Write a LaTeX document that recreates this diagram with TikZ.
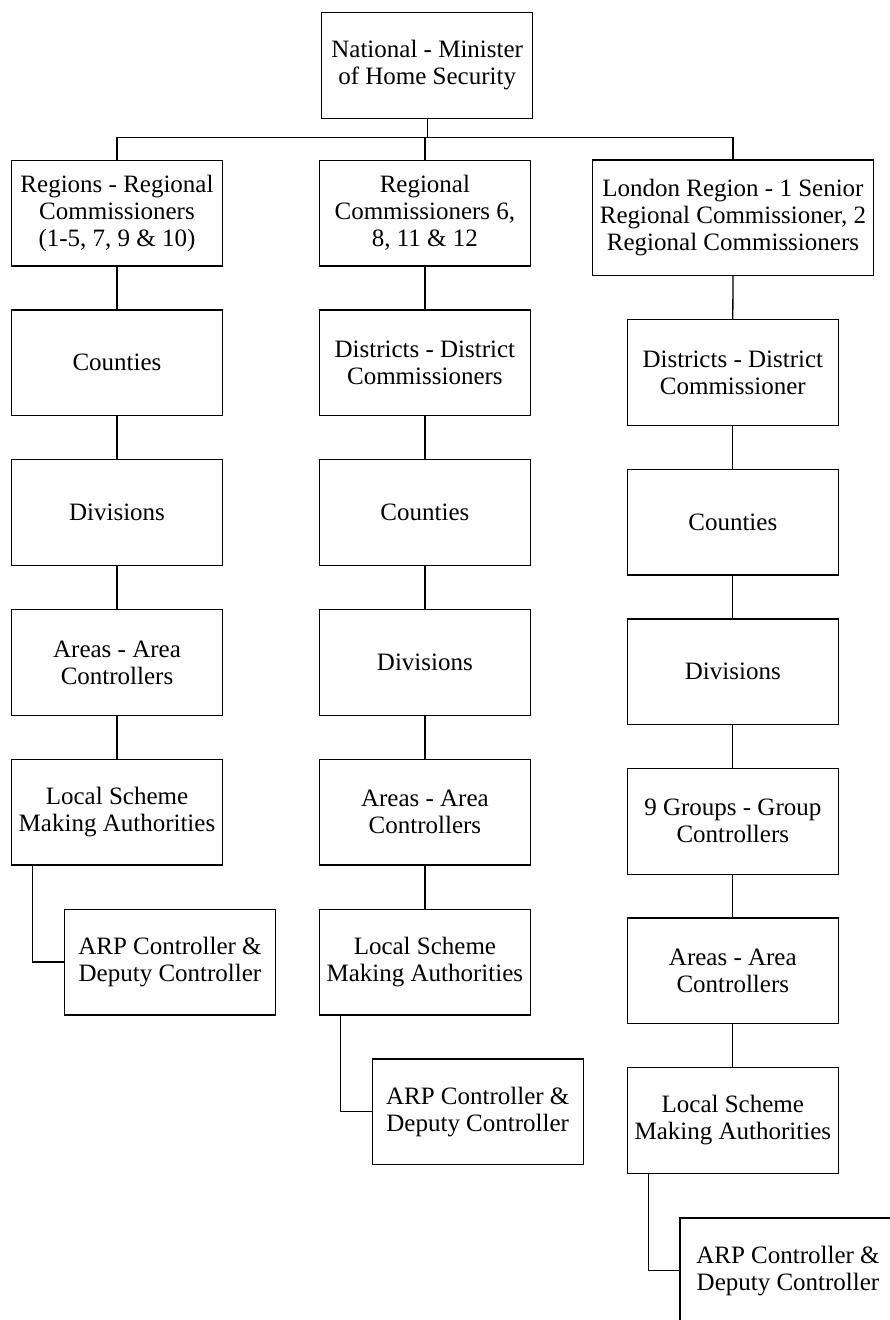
\documentclass[tikz,border=0pt]{standalone}
\usepackage{fontspec}
\setmainfont{Liberation Serif}

\begin{document}
\begin{tikzpicture}[x=1pt,y=-1pt,
  unit/.style={draw,line width=1.3pt,minimum width=211pt,minimum height=105.7pt,
    align=center,inner sep=2pt,font=\fontsize{25}{27}\selectfont},
  link/.style={line width=1.3pt}]
\useasboundingbox (0,0) rectangle (890,1320);
\clip (0,0) rectangle (890,1320);
% top
\node[unit](nat) at (427.2,65.5){National - Minister\\of Home Security};
\coordinate (bus) at (427.2,137.7);
% first column
\node[unit](reg1) at (117,213){Regions - Regional\\Commissioners\\(1-5, 7, 9 \& 10)};
\node[unit](cty1) at (117,362.8){Counties};
\node[unit](div1) at (117,512.6){Divisions};
\node[unit](area1) at (117,662.4){Areas - Area\\Controllers};
\node[unit](lsma1) at (117,812.2){Local Scheme\\Making Authorities};
\node[unit](arp1) at (170,962){ARP Controller \&\\Deputy Controller};
% second column
\node[unit](reg2) at (424.9,213){Regional\\Commissioners 6,\\8, 11 \& 12};
\node[unit](dist2) at (424.9,362.8){Districts - District\\Commissioners};
\node[unit](cty2) at (424.9,512.6){Counties};
\node[unit](div2) at (424.9,662.4){Divisions};
\node[unit](area2) at (424.9,812.2){Areas - Area\\Controllers};
\node[unit](lsma2) at (424.9,962){Local Scheme\\Making Authorities};
\node[unit](arp2) at (477.7,1111.8){ARP Controller \&\\Deputy Controller};
% third column
\node[unit,minimum width=280.6pt,minimum height=115.3pt](lon) at (733,217.7){London Region - 1 Senior\\Regional Commissioner, 2\\Regional Commissioners};
\node[unit](dist3) at (732.8,372.5){Districts - District\\Commissioner};
\node[unit](cty3) at (732.8,522.1){Counties};
\node[unit](div3) at (732.8,671.7){Divisions};
\node[unit](grp3) at (732.8,821.3){9 Groups - Group\\Controllers};
\node[unit](area3) at (732.8,970.9){Areas - Area\\Controllers};
\node[unit](lsma3) at (732.8,1120.5){Local Scheme\\Making Authorities};
\node[unit,minimum width=216pt](arp3) at (788,1270.8){ARP Controller \&\\Deputy Controller};
% links
\draw[link](nat.south)--(nat.south|-bus);
\draw[link](reg1.north)--(reg1.north|-bus)--(lon.north|-bus)--(lon.north);
\draw[link](reg2.north)--(reg2.north|-bus);
\foreach \a/\b in {reg1/cty1,cty1/div1,div1/area1,area1/lsma1,
  reg2/dist2,dist2/cty2,cty2/div2,div2/area2,area2/lsma2,
  lon/dist3,dist3/cty3,cty3/div3,div3/grp3,grp3/area3,area3/lsma3}
  \draw[link](\a.south)--(\b.north);
\draw[link]([xshift=21.5pt]lsma1.south west)|-(arp1.west);
\draw[link]([xshift=21.5pt]lsma2.south west)|-(arp2.west);
\draw[link]([xshift=21.5pt]lsma3.south west)|-(arp3.west);
\end{tikzpicture}
\end{document}
